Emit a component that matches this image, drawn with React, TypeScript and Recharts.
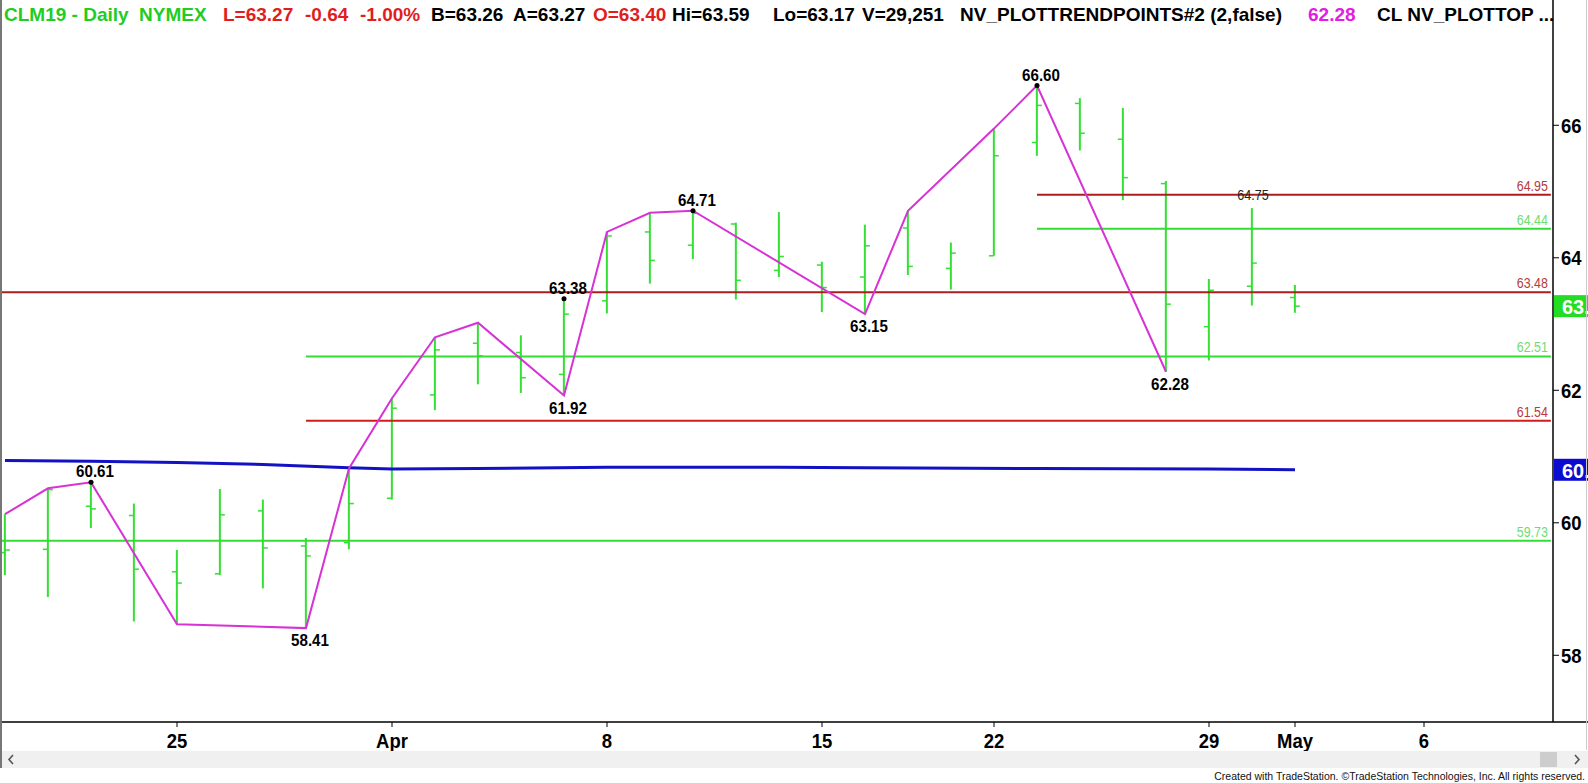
import React from "react";
import { ComposedChart, Bar, Line, XAxis, YAxis, ReferenceDot } from "recharts";

// trading sessions, one slot per day (Good Friday has no bar)
const sessions = [
  "Mar 19", "Mar 20", "Mar 21", "Mar 22", "Mar 25", "Mar 26", "Mar 27", "Mar 28", "Mar 29",
  "Apr 1", "Apr 2", "Apr 3", "Apr 4", "Apr 5", "Apr 8", "Apr 9", "Apr 10", "Apr 11", "Apr 12",
  "Apr 15", "Apr 16", "Apr 17", "Apr 18", "Apr 22", "Apr 23", "Apr 24", "Apr 25", "Apr 26",
  "Apr 29", "Apr 30", "May 1",
];
const opens = [
  59.55, 59.6, 60.25, 60.11, 59.26, 59.23, 60.18, 59.65, 59.7, 60.37, 61.93, 62.71, 62.57, 62.24,
  63.35, 64.39, 64.19, 64.51, 63.81, 63.89, 63.71, 64.45, 63.84, 64.03, 65.74, 66.33, 65.79, 65.12,
  62.96, 63.57, 63.4,
];
const highs = [
  60.13, 60.52, 60.61, 60.29, 59.59, 60.51, 60.35, 59.77, 60.82, 61.88, 62.8, 63.02, 62.83, 63.38,
  64.39, 64.68, 64.71, 64.53, 64.69, 63.94, 64.5, 64.71, 64.23, 65.95, 66.6, 66.41, 66.26, 65.16,
  63.68, 64.75, 63.59,
];
const lows = [
  59.21, 58.88, 59.92, 58.51, 58.47, 59.21, 59.01, 58.41, 59.6, 60.35, 61.7, 62.09, 61.96, 61.92,
  63.16, 63.61, 63.98, 63.37, 63.71, 63.18, 63.15, 63.74, 63.52, 64.03, 65.54, 65.62, 64.87, 62.28,
  62.45, 63.28, 63.17,
];
const closes = [
  59.59, 60.5, 60.21, 59.3, 59.09, 60.12, 59.62, 59.5, 60.29, 61.73, 62.61, 62.52, 62.19, 63.15,
  64.33, 63.96, 64.67, 63.66, 64.02, 63.55, 64.18, 63.87, 64.07, 65.54, 66.3, 65.88, 65.21, 63.3,
  63.51, 63.92, 63.27,
];

// NV_PLOTTRENDPOINTS zigzag
const pivotIdx = [0, 1, 2, 4, 7, 8, 9, 10, 11, 13, 14, 15, 16, 20, 21, 23, 24, 27];
const pivotVals = [
  60.13, 60.52, 60.61, 58.47, 58.41, 60.82, 61.88, 62.8, 63.02, 61.92, 64.39, 64.68, 64.71, 63.15,
  64.71, 65.95, 66.6, 62.28,
];

// swing point labels
const swingHighIdx = [2, 13, 16, 24];
const swingHighVals = [60.61, 63.38, 64.71, 66.6];
const swingLowIdx = [7, 13, 20, 27];
const swingLowVals = [58.41, 61.92, 63.15, 62.28];
const minorIdx = [29];
const minorVals = [64.75];

// blue moving average
const maIdx = [0, 2, 4, 6, 8, 9, 11, 14, 18, 20, 24, 28, 30];
const maVals = [60.94, 60.93, 60.91, 60.88, 60.83, 60.81, 60.82, 60.84, 60.84, 60.83, 60.82, 60.81, 60.8];

// plotted support / resistance levels
const levelVals = [59.73, 61.54, 62.51, 63.48, 64.44, 64.95];
const levelFrom = [-0.07, 7, 7, -0.07, 24, 24];
const levelKinds = ["sup", "res2", "sup", "res", "sup", "res"];
const levelTo = 35.95;

const dateTicks = [4, 9, 14, 19, 23, 28, 30, 33];
const dateLabels = ["25", "Apr", "8", "15", "22", "29", "May", "6"];
const priceTicks = [58, 60, 62, 64, 66];

const header: [string, number, string][] = [
  ["CLM19 - Daily", 4, "#22cc22"],
  ["NYMEX", 139, "#22cc22"],
  ["L=63.27", 223, "#e01e1e"],
  ["-0.64", 305, "#e01e1e"],
  ["-1.00%", 360, "#e01e1e"],
  ["B=63.26", 431, "#000"],
  ["A=63.27", 513, "#000"],
  ["O=63.40", 593, "#e01e1e"],
  ["Hi=63.59", 672, "#000"],
  ["Lo=63.17", 773, "#000"],
  ["V=29,251", 862, "#000"],
  ["NV_PLOTTRENDPOINTS#2 (2,false)", 960, "#000"],
  ["62.28", 1308, "#e020e0"],
  ["CL NV_PLOTTOP ...", 1377, "#000"],
];

const ohlc = sessions.map((date, i) => ({
  i,
  date,
  open: opens[i],
  high: highs[i],
  low: lows[i],
  close: closes[i],
}));
const pivots = pivotIdx.map((i, k) => ({ i, v: pivotVals[k] }));
const maLine = maIdx.map((i, k) => ({ i, v: maVals[k] }));
const highMarks = swingHighIdx.map((i, k) => ({ i, v: swingHighVals[k] }));
const lowMarks = swingLowIdx.map((i, k) => ({ i, v: swingLowVals[k] }));
const minorMarks = minorIdx.map((i, k) => ({ i, v: minorVals[k] }));

const FONT = "'Liberation Sans', Arial, sans-serif";
const BAR_GREEN = "#33e033";
const levelStroke: Record<string, string> = { sup: "#33dd33", res: "#ac1e1e", res2: "#d21c1c" };
const levelText: Record<string, string> = { sup: "#6fdc6f", res: "#b43c3c", res2: "#c03636" };

// horizontally squeezed text, to get the narrow look of the TradeStation fonts
const Narrow = ({ x, y, sx, anchor, size, bold, fill, children }: any) => (
  <text
    transform={`translate(${x},${y}) scale(${sx},1)`}
    textAnchor={anchor}
    fontFamily={FONT}
    fontWeight={bold ? "bold" : "normal"}
    fontSize={size}
    fill={fill}
  >
    {children}
  </text>
);

const DateTick = (p: any) => (
  <Narrow x={p.x} y={p.y + 15} sx={0.88} anchor="middle" size={21} bold fill="#000">
    {dateLabels[dateTicks.indexOf(p.payload.value)] ?? ""}
  </Narrow>
);

const PriceTick = (p: any) => (
  <Narrow x={p.x} y={p.y + 7.5} sx={0.88} anchor="start" size={21} bold fill="#000">
    {p.payload.value}
  </Narrow>
);

const OhlcBar = (props: any) => {
  const { x, y, width, height, payload } = props;
  if (x == null || y == null) return null;
  const cx = x + width / 2;
  const span = payload.high - payload.low || 1;
  const at = (v: number) => y + ((payload.high - v) / span) * height;
  return (
    <g stroke={BAR_GREEN}>
      <line x1={cx} x2={cx} y1={y} y2={y + height} strokeWidth={2} />
      <line x1={cx - 5} x2={cx} y1={at(payload.open)} y2={at(payload.open)} strokeWidth={1.5} />
      <line x1={cx} x2={cx + 5} y1={at(payload.close)} y2={at(payload.close)} strokeWidth={1.5} />
    </g>
  );
};

const highLabel = (p: any) => (
  <g key={`h${p.index}`}>
    <circle cx={p.cx} cy={p.cy} r={2.5} fill="#000" />
    <Narrow x={p.cx + 4} y={p.cy - 5} sx={0.89} anchor="middle" size={17} bold fill="#000">
      {p.payload.v.toFixed(2)}
    </Narrow>
  </g>
);

const lowLabel = (p: any) => (
  <g key={`l${p.index}`}>
    <Narrow x={p.cx + 4} y={p.cy + 18} sx={0.89} anchor="middle" size={17} bold fill="#000">
      {p.payload.v.toFixed(2)}
    </Narrow>
  </g>
);

const minorLabel = (p: any) => (
  <g key={`m${p.index}`}>
    <Narrow x={p.cx + 1} y={p.cy - 8} sx={0.9} anchor="middle" size={14} fill="#222">
      {p.payload.v.toFixed(2)}
    </Narrow>
  </g>
);

const Badge = ({ cx, cy, fill, text }: any) => (
  <g>
    <rect x={cx + 1} y={cy - 11} width={40} height={22} fill={fill} />
    <Narrow x={cx + 9} y={cy + 8} sx={0.95} anchor="start" size={21} bold fill="#fff">
      {text}
    </Narrow>
  </g>
);

export default function App() {
  return (
    <div style={{ position: "relative", width: 1588, height: 783, background: "#fff", overflow: "hidden" }}>
      <style>{"body{margin:0}"}</style>
      <ComposedChart width={1588} height={783} data={ohlc} margin={{ top: 0, right: 0, bottom: 0, left: 2 }}>
        <XAxis
          dataKey="i"
          type="number"
          domain={[-0.07, 36]}
          allowDataOverflow
          ticks={dateTicks}
          interval={0}
          height={61}
          tickSize={5}
          tickMargin={6}
          tick={<DateTick />}
          axisLine={{ stroke: "#000", strokeWidth: 1.5 }}
          tickLine={{ stroke: "#000" }}
        />
        <YAxis
          orientation="right"
          type="number"
          domain={[56.993, 67.891]}
          allowDataOverflow
          ticks={priceTicks}
          width={35}
          tickSize={6}
          tickMargin={2}
          tick={<PriceTick />}
          axisLine={{ stroke: "#000", strokeWidth: 1.5 }}
          tickLine={{ stroke: "#000" }}
        />
        {levelVals.map((v, k) => (
          <Line
            key={`lvl${k}`}
            data={[{ i: levelFrom[k], v }, { i: levelTo, v }]}
            dataKey="v"
            stroke={levelStroke[levelKinds[k]]}
            strokeWidth={2}
            isAnimationActive={false}
            activeDot={false}
            dot={(p: any) =>
              p.index === 1 ? (
                <g key={`lt${k}`}>
                  <Narrow x={p.cx - 3} y={p.cy - 4} sx={0.83} anchor="end" size={15} fill={levelText[levelKinds[k]]}>
                    {v.toFixed(2)}
                  </Narrow>
                </g>
              ) : (
                <g key={`lg${k}`} />
              )
            }
          />
        ))}
        <Bar dataKey={(d: any) => [d.low, d.high]} barSize={10} shape={<OhlcBar />} isAnimationActive={false} />
        <Line data={maLine} dataKey="v" stroke="#1212c4" strokeWidth={3} dot={false} activeDot={false} isAnimationActive={false} />
        <Line data={pivots} dataKey="v" stroke="#d632d6" strokeWidth={2} dot={false} activeDot={false} isAnimationActive={false} />
        <Line data={highMarks} dataKey="v" stroke="none" dot={highLabel} activeDot={false} isAnimationActive={false} />
        <Line data={lowMarks} dataKey="v" stroke="none" dot={lowLabel} activeDot={false} isAnimationActive={false} />
        <Line data={minorMarks} dataKey="v" stroke="none" dot={minorLabel} activeDot={false} isAnimationActive={false} />
        <ReferenceDot x={36} y={closes[closes.length - 1]} ifOverflow="visible" shape={(p: any) => <Badge {...p} fill="#22dd22" text={closes[closes.length - 1].toFixed(2)} />} />
        <ReferenceDot x={36} y={maVals[maVals.length - 1]} ifOverflow="visible" shape={(p: any) => <Badge {...p} fill="#0c0cd0" text={maVals[maVals.length - 1].toFixed(2)} />} />
      </ComposedChart>
      <svg width={1588} height={783} style={{ position: "absolute", left: 0, top: 0, pointerEvents: "none" }}>
        <text y={21} fontFamily={FONT} fontWeight="bold" fontSize={19}>
          {header.map(([t, x, c]) => (
            <tspan key={t} x={x} fill={c}>
              {t}
            </tspan>
          ))}
        </text>
        <line x1={1553} x2={1588} y1={722} y2={722} stroke="#000" strokeWidth={1.5} />
        <line x1={1} x2={1} y1={0} y2={768} stroke="#777" strokeWidth={2} />
        <line x1={1586.5} x2={1586.5} y1={0} y2={750} stroke="#ccc" strokeWidth={1} />
        <rect x={2} y={751} width={1586} height={17} fill="#f0f0f0" />
        <rect x={1540} y={752} width={17} height={15} fill="#cdcdcd" />
        <path d="M13 755 L9 759.5 L13 764" fill="none" stroke="#555" strokeWidth={1.6} />
        <path d="M1575 755 L1579 759.5 L1575 764" fill="none" stroke="#555" strokeWidth={1.6} />
        <text x={1585} y={780} textAnchor="end" fontFamily={FONT} fontSize={10.5} fill="#111">
          Created with TradeStation. ©TradeStation Technologies, Inc. All rights reserved.
        </text>
      </svg>
    </div>
  );
}
